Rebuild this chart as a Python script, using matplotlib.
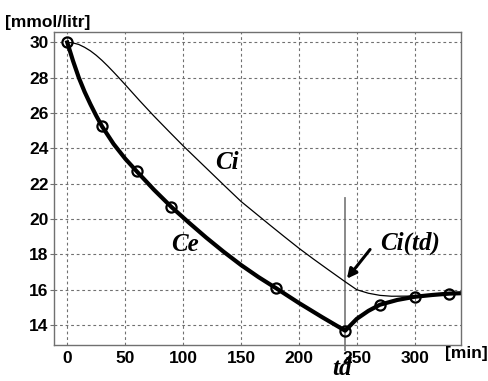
# Ce / Ci concentration curves with dialysis end time td

import matplotlib
matplotlib.use("Agg")
import matplotlib.pyplot as plt

# Ce (thick line)
t_ce = [0, 5, 10, 15, 20, 25, 30, 40, 50, 60, 75, 90, 105, 120, 135, 150, 165, 180,
        200, 220, 240, 250, 260, 270, 285, 300, 315, 330, 340]
ce = [30, 28.95, 28.0, 27.2, 26.5, 25.85, 25.25, 24.25, 23.42, 22.7, 21.65, 20.68, 19.8,
      18.95, 18.15, 17.4, 16.72, 16.1, 15.25, 14.45, 13.68, 14.35, 14.8, 15.15, 15.42,
      15.6, 15.7, 15.78, 15.8]

# measured points (circles)
t_meas = [0, 30, 60, 90, 180, 240, 270, 300, 330]
c_meas = [30, 25.25, 22.7, 20.68, 16.1, 13.68, 15.15, 15.6, 15.78]

# Ci (thin line)
t_ci = [0, 5, 10, 15, 20, 25, 30, 35, 40, 45, 50, 62.5, 75, 87.5, 100, 112.5, 125,
        137.5, 150, 162.5, 175, 187.5, 200, 212.5, 225, 240, 250, 260, 270, 280, 300,
        320, 340]
ci = [30, 29.97, 29.88, 29.72, 29.52, 29.27, 28.98, 28.66, 28.32, 27.97, 27.61, 26.7,
      25.82, 24.98, 24.15, 23.36, 22.57, 21.78, 21.0, 20.33, 19.66, 19.0, 18.35, 17.74,
      17.15, 16.45, 16.0, 15.8, 15.68, 15.63, 15.64, 15.72, 15.78]

td = 240
td_span = (12.6, 21.2)

xticks = [0, 50, 100, 150, 200, 250, 300]
yticks = [14, 16, 18, 20, 22, 24, 26, 28, 30]

plt.rcParams['font.family'] = ['Liberation Sans', 'DejaVu Sans']

fig = plt.figure(figsize=(4.89, 3.81), dpi=100)
ax = fig.add_axes([0.111, 0.0945, 0.8317, 0.8207])

ax.plot(t_ci, ci, color="black", lw=0.9)
ax.plot(t_ce, ce, color="black", lw=3, solid_joinstyle="round")
ax.plot(t_meas, c_meas, "o", mfc="none", mec="black", mew=1.6, ms=7.3)

ax.plot([td, td], td_span, color="#808080", lw=1.3, clip_on=False, zorder=1)

ax.annotate("", xy=(240, 16.5), xytext=(263, 18.4),
            arrowprops=dict(arrowstyle="-|>", lw=2.2, color="black", mutation_scale=14))

serif = dict(family="Liberation Serif", style="italic", weight="bold", fontsize=18)
ax.text(137.6, 23.2, "Ci", ha="center", va="center", **serif)
ax.text(101.6, 18.55, "Ce", ha="center", va="center", **serif)
ax.text(296, 18.6, "Ci(td)", ha="center", va="center", **serif)
ax.text(237, 11.15, "td", ha="center", va="baseline", clip_on=False, **serif)

ax.set_xlim(-11.2, 340)
ax.set_ylim(12.87, 30.57)
ax.set_xticks(xticks)
ax.set_yticks(yticks)
ax.tick_params(axis="x", length=0, pad=4, labelsize=12.5)
ax.tick_params(axis="y", length=3, color="#707070", pad=1, labelsize=12.5)
for lab in ax.get_xticklabels() + ax.get_yticklabels():
    lab.set_fontweight("bold")

ax.grid(True, color="#707070", ls=(0, (2.5, 2.5)), lw=0.8)
for s in ax.spines.values():
    s.set_color("#707070")
    s.set_linewidth(1)

fig.text(5 / 489, 1 - 22 / 381, "[mmol/litr]", ha="left", va="center",
         fontsize=12.5, fontweight="bold")
ax.text(326, 12.4, "[min]", ha="left", va="center", fontsize=12.5,
        fontweight="bold", clip_on=False)

fig.savefig("out.png", dpi=100)
